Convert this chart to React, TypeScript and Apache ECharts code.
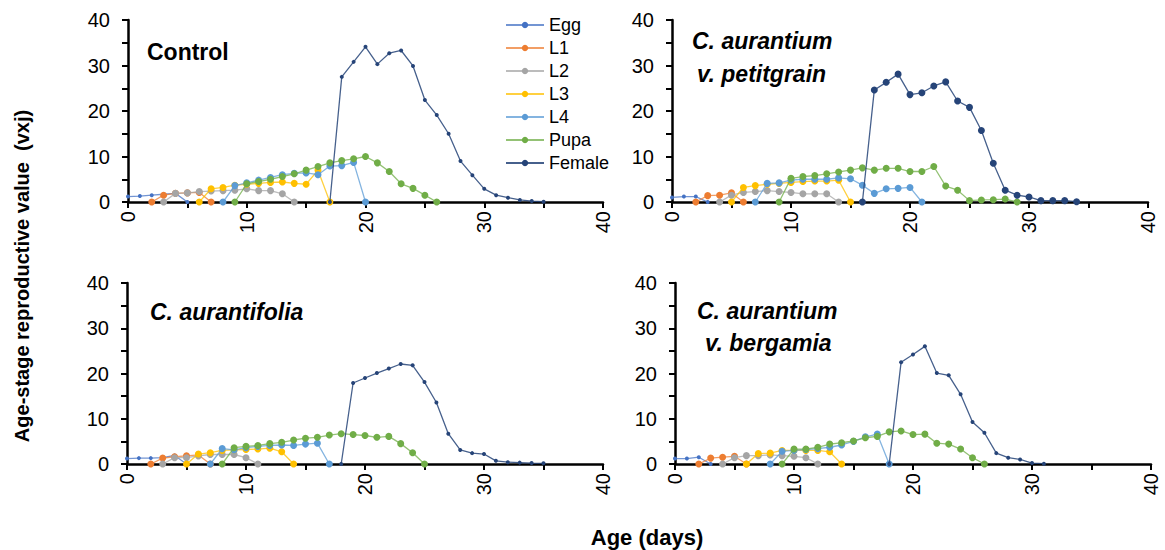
import React, { useEffect, useRef } from "react";
import * as echarts from "echarts";

const FONT = "'Liberation Sans', Arial, sans-serif";

const stageNames = ["Egg", "L1", "L2", "L3", "L4", "Pupa", "Female"];
const stageColors = ["#4472C4", "#ED7D31", "#A5A5A5", "#FFC000", "#5B9BD5", "#70AD47", "#264478"];
const xTickLabels = [0, 10, 20, 30, 40];
const yTickLabels = [0, 10, 20, 30, 40];

// Control
const controlStart = [0, 2, 3, 6, 8, 9, 17];
const controlEgg = [1.2, 1.3, 1.5, 1.7, 1.9, 0];
const controlL1 = [0, 1.5, 1.9, 2.0, 2.1, 0];
const controlL2 = [0, 1.9, 2.0, 2.3, 2.4, 2.5, 2.6, 2.9, 2.5, 2.5, 1.8, 0];
const controlL3 = [0, 2.9, 3.2, 3.7, 3.9, 4.1, 4.3, 4.4, 4.1, 3.9, 7.0, 0];
const controlL4 = [0, 3.6, 4.2, 4.8, 5.4, 6.0, 6.3, 6.4, 6.0, 7.9, 8.0, 8.7, 0];
const controlPupa = [0, 4.0, 4.5, 5.0, 5.6, 6.2, 7.0, 7.8, 8.6, 9.1, 9.5, 10.0, 8.6, 6.7, 4.0, 3.0, 1.5, 0];
const controlFemale = [0, 27.5, 30.8, 34.1, 30.3, 32.7, 33.3, 29.9, 22.4, 19.1, 15.0, 9.0, 5.9, 2.9, 1.5, 0.95, 0.45, 0.2, 0.05];

// C. aurantium v. petitgrain
const petitStart = [0, 2, 4, 5, 7, 9, 16];
const petitEgg = [1.0, 1.2, 1.2, 0];
const petitL1 = [0, 1.4, 1.5, 2.0, 0];
const petitL2 = [0, 1.5, 2.1, 2.3, 2.5, 2.3, 2.1, 1.8, 1.8, 1.8, 0];
const petitL3 = [0, 3.2, 3.6, 3.9, 4.1, 4.3, 4.5, 4.6, 4.6, 4.8, 0];
const petitL4 = [0, 4.1, 4.2, 4.8, 5.0, 5.0, 5.0, 5.3, 5.1, 3.7, 1.9, 2.9, 3.0, 3.2, 0];
const petitPupa = [0, 5.2, 5.6, 5.8, 6.2, 6.6, 7.0, 7.5, 7.0, 7.4, 7.4, 6.7, 6.7, 7.8, 3.5, 2.6, 0.3, 0.45, 0.5, 0.65, 0];
const petitFemale = [0, 24.6, 26.3, 28.1, 23.6, 24.0, 25.5, 26.4, 22.2, 20.8, 15.7, 8.5, 2.6, 1.5, 1.1, 0.3, 0.3, 0.3, 0.07];

// C. aurantifolia
const folStart = [0, 2, 3, 5, 7, 8, 18];
const folEgg = [1.2, 1.3, 1.3, 1.4, 1.9, 0];
const folL1 = [0, 1.3, 1.6, 1.8, 2.0, 0];
const folL2 = [0, 1.4, 1.4, 1.8, 2.1, 2.1, 2.1, 1.4, 0];
const folL3 = [0, 2.2, 2.5, 3.0, 3.1, 3.2, 3.3, 3.5, 2.7, 0];
const folL4 = [0, 3.4, 3.1, 3.6, 3.9, 4.1, 4.2, 4.1, 4.4, 4.6, 0];
const folPupa = [0, 3.6, 3.9, 4.1, 4.5, 4.8, 5.3, 5.7, 5.9, 6.4, 6.7, 6.5, 6.3, 5.9, 6.1, 4.5, 2.5, 0];
const folFemale = [0, 17.9, 19.0, 20.1, 21.1, 22.1, 21.8, 18.1, 13.6, 6.7, 3.1, 2.4, 2.2, 0.7, 0.4, 0.3, 0.2, 0.15];

// C. aurantium v. bergamia
const bergStart = [0, 2, 4, 6, 8, 9, 18];
const bergEgg = [1.2, 1.2, 1.5, 0];
const bergL1 = [0, 1.3, 1.5, 1.7, 0];
const bergL2 = [0, 1.4, 1.85, 1.85, 2.0, 1.85, 1.7, 1.4, 0];
const bergL3 = [0, 2.3, 2.4, 3.0, 3.0, 3.0, 3.0, 2.7, 0];
const bergL4 = [0, 2.8, 3.0, 3.2, 3.4, 3.7, 4.2, 5.0, 6.0, 6.6, 0];
const bergPupa = [0, 3.3, 3.3, 3.7, 4.4, 4.7, 5.1, 5.8, 6.1, 7.1, 7.3, 6.5, 6.6, 4.6, 4.4, 3.3, 1.4, 0];
const bergFemale = [0, 22.5, 24.2, 26.0, 20.1, 19.6, 15.4, 9.3, 6.9, 2.4, 1.4, 1.0, 0.2, 0.07];

const panels = [
  { start: controlStart, values: [controlEgg, controlL1, controlL2, controlL3, controlL4, controlPupa, controlFemale], femaleSize: 4 },
  { start: petitStart, values: [petitEgg, petitL1, petitL2, petitL3, petitL4, petitPupa, petitFemale], femaleSize: 7 },
  { start: folStart, values: [folEgg, folL1, folL2, folL3, folL4, folPupa, folFemale], femaleSize: 4 },
  { start: bergStart, values: [bergEgg, bergL1, bergL2, bergL3, bergL4, bergPupa, bergFemale], femaleSize: 4 },
];

const grids = [
  { left: 128, top: 20, width: 475, height: 182 },
  { left: 672, top: 20, width: 476, height: 182 },
  { left: 127, top: 283, width: 476, height: 181 },
  { left: 675, top: 283, width: 476, height: 181 },
];

export default function App() {
  const ref = useRef<HTMLDivElement>(null);
  useEffect(() => {
    if (!ref.current) return;
    const chart = echarts.init(ref.current, null, { renderer: "svg" });

    const xAxes = grids.map((_, i) => ({
      type: "value",
      gridIndex: i,
      min: 0,
      max: 40,
      interval: 5,
      axisLine: { show: true, lineStyle: { color: "#000", width: 2.5 } },
      axisTick: { show: true, inside: false, length: 6, lineStyle: { color: "#000", width: 2 } },
      splitLine: { show: false },
      axisLabel: {
        rotate: 90,
        margin: 9,
        fontFamily: FONT,
        fontSize: 20,
        color: "#000",
        formatter: (v: number) => (xTickLabels.includes(v) ? String(v) : ""),
      },
    }));
    const yAxes = grids.map((_, i) => ({
      type: "value",
      gridIndex: i,
      min: 0,
      max: 40,
      interval: 5,
      axisLine: { show: true, lineStyle: { color: "#000", width: 2.5 } },
      axisTick: { show: true, inside: false, length: 6, lineStyle: { color: "#000", width: 2 } },
      splitLine: { show: false },
      axisLabel: {
        margin: 18,
        fontFamily: FONT,
        fontSize: 20,
        color: "#000",
        formatter: (v: number) => (yTickLabels.includes(v) ? String(v) : ""),
      },
    }));

    const series: any[] = [];
    panels.forEach((p, gi) => {
      stageNames.forEach((name, si) => {
        const vals = p.values[si];
        const start = p.start[si];
        const small = si === 0 || (si === 6 && p.femaleSize < 6);
        series.push({
          type: "line",
          name,
          xAxisIndex: gi,
          yAxisIndex: gi,
          data: vals.map((v, k) => [start + k, v]),
          symbol: "circle",
          symbolSize: si === 6 ? p.femaleSize : small ? 4 : 7,
          showSymbol: true,
          lineStyle: { color: stageColors[si], width: 1.3, opacity: si === 6 ? 0.85 : 0.75 },
          itemStyle: { color: stageColors[si] },
          z: 2 + si,
        });
      });
    });

    const boldText = (x: number, y: number, text: string, italic = false) => ({
      type: "text",
      x,
      y,
      style: {
        text,
        fill: "#000",
        fontFamily: FONT,
        fontWeight: "bold",
        fontStyle: italic ? "italic" : "normal",
        fontSize: 23,
        align: "left",
        verticalAlign: "middle",
      },
    });

    chart.setOption({
      animation: false,
      backgroundColor: "#fff",
      grid: grids.map((g) => ({ ...g, containLabel: false })),
      xAxis: xAxes,
      yAxis: yAxes,
      legend: {
        orient: "vertical",
        left: 500,
        top: 11,
        itemWidth: 38,
        itemHeight: 8,
        itemGap: 5,
        data: stageNames,
        textStyle: { fontFamily: FONT, fontSize: 18, color: "#000" },
        selectedMode: false,
      },
      series,
      graphic: [
        boldText(147, 52, "Control"),
        boldText(692, 41, "C. aurantium", true),
        boldText(697, 74, "v. petitgrain", true),
        boldText(150, 312, "C. aurantifolia", true),
        boldText(697, 311, "C. aurantium", true),
        boldText(705, 343, "v. bergamia", true),
        {
          type: "text",
          x: 22,
          y: 276,
          rotation: Math.PI / 2,
          style: {
            text: "Age-stage reproductive value  (vxj)",
            fill: "#000",
            fontFamily: FONT,
            fontWeight: "bold",
            fontSize: 20,
            align: "center",
            verticalAlign: "middle",
          },
        },
        {
          type: "text",
          x: 647,
          y: 537,
          style: {
            text: "Age (days)",
            fill: "#000",
            fontFamily: FONT,
            fontWeight: "bold",
            fontSize: 22,
            align: "center",
            verticalAlign: "middle",
          },
        },
      ],
    });
    return () => chart.dispose();
  }, []);
  return (
    <div
      ref={ref}
      style={{ position: "fixed", left: 0, top: 0, width: 1165, height: 550, background: "#fff" }}
    />
  );
}
